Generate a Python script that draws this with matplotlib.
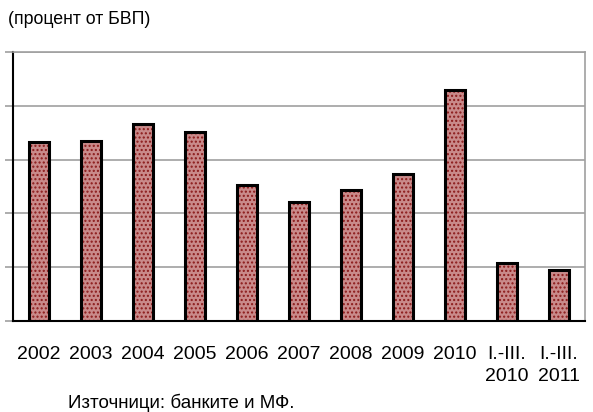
import matplotlib.pyplot as plt
import numpy as np

plt.rcParams['font.family'] = ['Liberation Sans', 'DejaVu Sans']

categories = ['2002', '2003', '2004', '2005', '2006', '2007', '2008', '2009', '2010',
              'I.-III.\n2010', 'I.-III.\n2011']
values = [3.33, 3.35, 3.66, 3.51, 2.53, 2.21, 2.43, 2.73, 4.29, 1.08, 0.95]

fig = plt.figure(figsize=(5.93, 4.12), dpi=100)
ax = fig.add_axes([0.0219, 0.2209, 0.9647, 0.6529])

x = np.arange(len(categories))
# dotted fill, then black outline
ax.bar(x, values, width=0.4, color='#c98a8a', edgecolor='#8b1a1a', hatch='....',
       linewidth=0, zorder=3)
ax.bar(x, values, width=0.4, facecolor='none', edgecolor='black', linewidth=2.2, zorder=4)

ax.set_xlim(-0.5, len(categories) - 0.5)
ax.set_ylim(0, 5)
ax.set_yticks(np.arange(0, 6, 1))
ax.set_yticklabels([])
ax.yaxis.grid(True, color='#a0a0a0', linewidth=1.2, zorder=0)
ax.tick_params(axis='y', length=6, color='#a0a0a0', width=1.2)
ax.tick_params(axis='x', length=0, pad=18, labelsize=14)
ax.set_xticks(x)
ax.set_xticklabels(categories, linespacing=1.4, va='top')

ax.spines['left'].set_color('black')
ax.spines['left'].set_linewidth(1.5)
ax.spines['bottom'].set_color('black')
ax.spines['bottom'].set_linewidth(1.5)
ax.spines['top'].set_color('#a0a0a0')
ax.spines['top'].set_linewidth(1.2)
ax.spines['right'].set_color('#a0a0a0')
ax.spines['right'].set_linewidth(1.2)

fig.text(8 / 593, 1 - 20 / 412, '(процент от БВП)', fontsize=12.8, va='center', ha='left')
fig.text(68 / 593, 1 - 403 / 412, 'Източници: банките и МФ.', fontsize=13.5, va='center', ha='left')

fig.savefig('out.png', dpi=100)
